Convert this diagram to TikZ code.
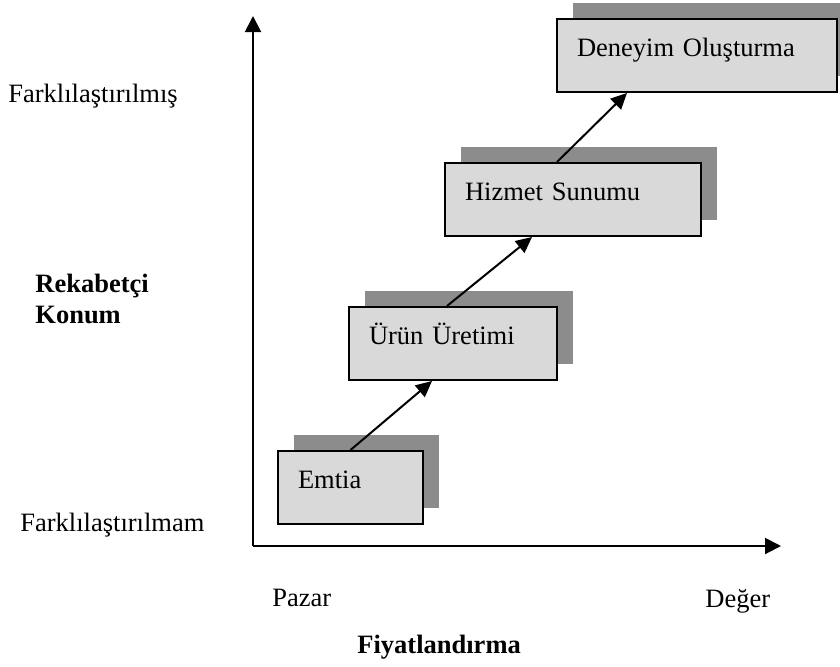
\documentclass[tikz,border=0pt]{standalone}
\usepackage{fontspec}
\setmainfont{Liberation Serif}
\usetikzlibrary{arrows.meta,shadows,calc}
\definecolor{boxgray}{HTML}{D9D9D9}
\definecolor{shadegray}{HTML}{8C8C8C}
\begin{document}
\begin{tikzpicture}[x=0.5pt,y=-0.5pt,
  every node/.style={font=\fontsize{13.25pt}{16pt}\selectfont},
  boldtext/.style={font=\fontsize{13.25pt}{16pt}\selectfont\bfseries},
  stage/.style={draw=black, line width=1pt, fill=boxgray,
    inner xsep=10pt, inner ysep=0pt, text height=18.5pt, text depth=18pt,
    text width=#1, align=left, anchor=north west,
    general shadow={shadow xshift=8pt, shadow yshift=8pt, fill=shadegray, draw=none}},
  axis/.style={line width=1pt, -{Triangle[length=8pt,width=8pt]}},
  link/.style={line width=1pt, -{Triangle[length=8pt,width=7.5pt]}},
  lbl/.style={inner sep=0pt, anchor=base west}]
\useasboundingbox (0,0) rectangle (840,666);

% axes
\coordinate (o) at (253,546);
\coordinate (ytip) at (253,16);
\coordinate (xtip) at (781,546);
\draw[axis] (o) -- (ytip);
\draw[axis] (o) -- (xtip);

% stages
\node[stage=52.5pt] (emtia) at (277,450) {Emtia};
\node[stage=84pt] (urun) at (348,306) {Ürün Üretimi};
\node[stage=108pt] (hizmet) at (444,162) {Hizmet Sunumu};
\node[stage=120pt] (deneyim) at (556,18) {Deneyim Oluşturma};

% progression arrows
\draw[link] (emtia.north) -- ($(urun.south west)+(84,0)$);
\draw[link] ($(urun.north west)+(99,0)$) -- ($(hizmet.south west)+(88,0)$);
\draw[link] ($(hizmet.north west)+(113,0)$) -- ($(deneyim.south west)+(71,0)$);

% axis labels
\node[lbl] (hi) at (8,102) {Farklılaştırılmış};
\node[lbl,boldtext] (rek) at (35,292) {Rekabetçi};
\node[lbl,boldtext] (konum) at (35,323) {Konum};
\node[lbl] (lo) at (20,531) {Farklılaştırılmam};
\node[lbl] (pazar) at (272,606) {Pazar};
\node[lbl] (deger) at (705,607) {Değer};
\node[lbl,boldtext] (fiyat) at (357,653) {Fiyatlandırma};
\end{tikzpicture}
\end{document}
